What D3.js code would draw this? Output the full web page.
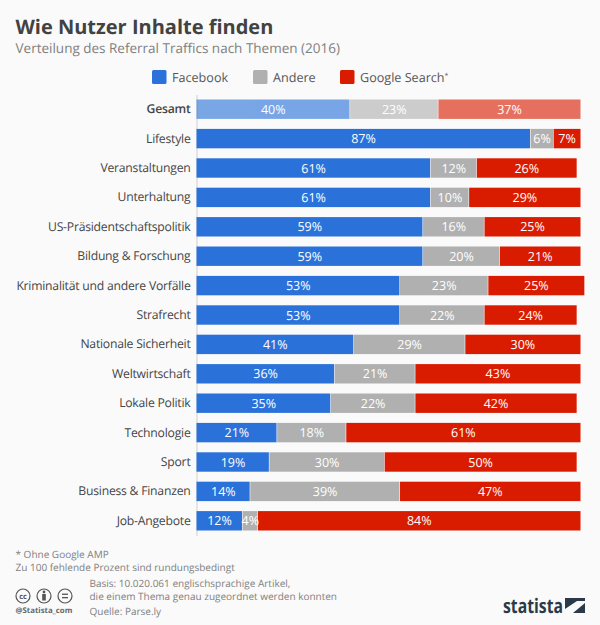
<!DOCTYPE html>
<html>
<head>
<meta charset="utf-8">
<script src="https://cdn.jsdelivr.net/npm/d3@7"></script>
<style>
html, body { margin: 0; padding: 0; background: #fafafa; }
svg { display: block; }
text { font-family: "Open Sans", sans-serif; text-rendering: geometricPrecision; }
</style>
</head>
<body>
<div id="chart"></div>
<script>
var categories = ["Gesamt", "Lifestyle", "Veranstaltungen", "Unterhaltung", "US-Präsidentschaftspolitik",
    "Bildung & Forschung", "Kriminalität und andere Vorfälle", "Strafrecht", "Nationale Sicherheit",
    "Weltwirtschaft", "Lokale Politik", "Technologie", "Sport", "Business & Finanzen", "Job-Angebote"];
var facebook = [40, 87, 61, 61, 59, 59, 53, 53, 41, 36, 35, 21, 19, 14, 12];
var andere = [23, 6, 12, 10, 16, 20, 23, 22, 29, 21, 22, 18, 30, 39, 4];
var google = [37, 7, 26, 29, 25, 21, 25, 24, 30, 43, 42, 61, 50, 47, 84];
var seriesNames = ["Facebook", "Andere", "Google Search"];
var seriesValues = [facebook, andere, google];
var colors = ["#2a72d9", "#b0b0b0", "#d91c00"];

var width = 600, height = 625;
var svg = d3.select("#chart").append("svg")
    .attr("width", width)
    .attr("height", height);

svg.append("rect").attr("width", width).attr("height", height).attr("fill", "#fafafa");

svg.append("text").attr("x", 15.5).attr("y", 33.5)
    .attr("font-size", 20).attr("font-weight", 700).attr("fill", "#424242")
    .text("Wie Nutzer Inhalte finden");
svg.append("text").attr("x", 15.5).attr("y", 53)
    .attr("font-size", 13.5).attr("fill", "#808080")
    .text("Verteilung des Referral Traffics nach Themen (2016)");

// legend
var legendX = [152, 253, 340];
var legend = svg.selectAll("g.legend").data(seriesNames).enter().append("g")
    .attr("class", "legend")
    .attr("transform", function (d, i) { return "translate(" + legendX[i] + ",70)"; });
legend.append("rect")
    .attr("width", 14.5).attr("height", 14).attr("rx", 1.5)
    .attr("fill", function (d, i) { return colors[i]; });
var legendText = legend.append("text")
    .attr("x", 20).attr("y", 12)
    .attr("font-size", 12.6).attr("fill", "#555")
    .text(function (d) { return d; });
legendText.filter(function (d) { return d === "Google Search"; })
    .append("tspan").attr("font-size", 7).attr("dy", -4).text("*");

// scales
var x = d3.scaleLinear().domain([0, 100]).range([196.5, 580.5]);
var y = d3.scaleBand().domain(categories).range([94.5, 535.5]).paddingInner(0.34).paddingOuter(0.17);

var axis = svg.append("g")
    .attr("transform", "translate(196.5,0)")
    .call(d3.axisLeft(y).tickSize(0).tickPadding(6));
axis.select(".domain").attr("stroke", "#cfcfcf").attr("stroke-width", 1);
axis.selectAll("text")
    .attr("font-size", 12.2)
    .attr("letter-spacing", -0.23)
    .attr("fill", "#454545")
    .style("font-family", '"Open Sans", sans-serif')
    .attr("font-weight", function (d) { return d === "Gesamt" ? 600 : 400; });

var rows = svg.selectAll("g.row").data(categories).enter().append("g")
    .attr("class", "row")
    .attr("opacity", function (d) { return d === "Gesamt" ? 0.62 : 1; });

rows.each(function (cat, r) {
    var g = d3.select(this), sum = 0;
    seriesValues.forEach(function (vals, s) {
        var v = vals[r], start = sum;
        sum += v;
        g.append("rect")
            .attr("x", x(start))
            .attr("y", y(cat))
            .attr("width", x(sum) - x(start) - (s < 2 ? 0.6 : 0))
            .attr("height", y.bandwidth())
            .attr("fill", colors[s]);
    });
});

// value labels on top, not faded
categories.forEach(function (cat, r) {
    var sum = 0;
    seriesValues.forEach(function (vals) {
        var v = vals[r], start = sum;
        sum += v;
        svg.append("text")
            .attr("x", (x(start) + x(sum)) / 2)
            .attr("y", y(cat) + y.bandwidth() / 2 + 4.6)
            .attr("text-anchor", "middle")
            .attr("font-size", 12.5)
            .attr("fill", "#fff")
            .text(v + "%");
    });
});

// footer
var notes = svg.append("g").attr("font-size", 10).attr("fill", "#808080");
notes.append("text").attr("x", 15.5).attr("y", 557.5).text("* Ohne Google AMP");
notes.append("text").attr("x", 15.5).attr("y", 570.5).text("Zu 100 fehlende Prozent sind rundungsbedingt");
notes.append("text").attr("x", 89.5).attr("y", 586.5).text("Basis: 10.020.061 englischsprachige Artikel,");
notes.append("text").attr("x", 89.5).attr("y", 599.5).text("die einem Thema genau zugeordnet werden konnten");
notes.append("text").attr("x", 89.5).attr("y", 615).text("Quelle: Parse.ly");

// cc icons
var iconColor = "#555";
var icons = svg.append("g").attr("fill", "none").attr("stroke", iconColor).attr("stroke-width", 1.2);
[23, 44, 65].forEach(function (cx) {
    icons.append("circle").attr("cx", cx).attr("cy", 596).attr("r", 7);
});
svg.append("text").attr("x", 23).attr("y", 598.5).attr("text-anchor", "middle")
    .attr("font-size", 7.5).attr("font-weight", 700).attr("fill", iconColor).text("cc");
svg.append("circle").attr("cx", 44).attr("cy", 592).attr("r", 1.4).attr("fill", iconColor);
svg.append("rect").attr("x", 42.2).attr("y", 594).attr("width", 3.6).attr("height", 6.5).attr("fill", iconColor);
svg.append("rect").attr("x", 62).attr("y", 593.6).attr("width", 6).attr("height", 1.3).attr("fill", iconColor);
svg.append("rect").attr("x", 62).attr("y", 597).attr("width", 6).attr("height", 1.3).attr("fill", iconColor);
svg.append("text").attr("x", 15.5).attr("y", 613)
    .attr("font-size", 7.8).attr("font-weight", 700).attr("fill", "#666").text("@Statista_com");

// logo
svg.append("text").attr("x", 503).attr("y", 613).attr("font-size", 20).attr("font-weight", 700)
    .attr("fill", "#2b3a4a").attr("textLength", 60).attr("lengthAdjust", "spacingAndGlyphs").text("statista");
svg.append("rect").attr("x", 565).attr("y", 598).attr("width", 20).attr("height", 15).attr("fill", "#2b3a4a");
svg.append("path").attr("d", "M565 609 L577 601 L585 601 L585 603 L573 613 L565 613 Z").attr("fill", "#fafafa");
</script>
</body>
</html>
